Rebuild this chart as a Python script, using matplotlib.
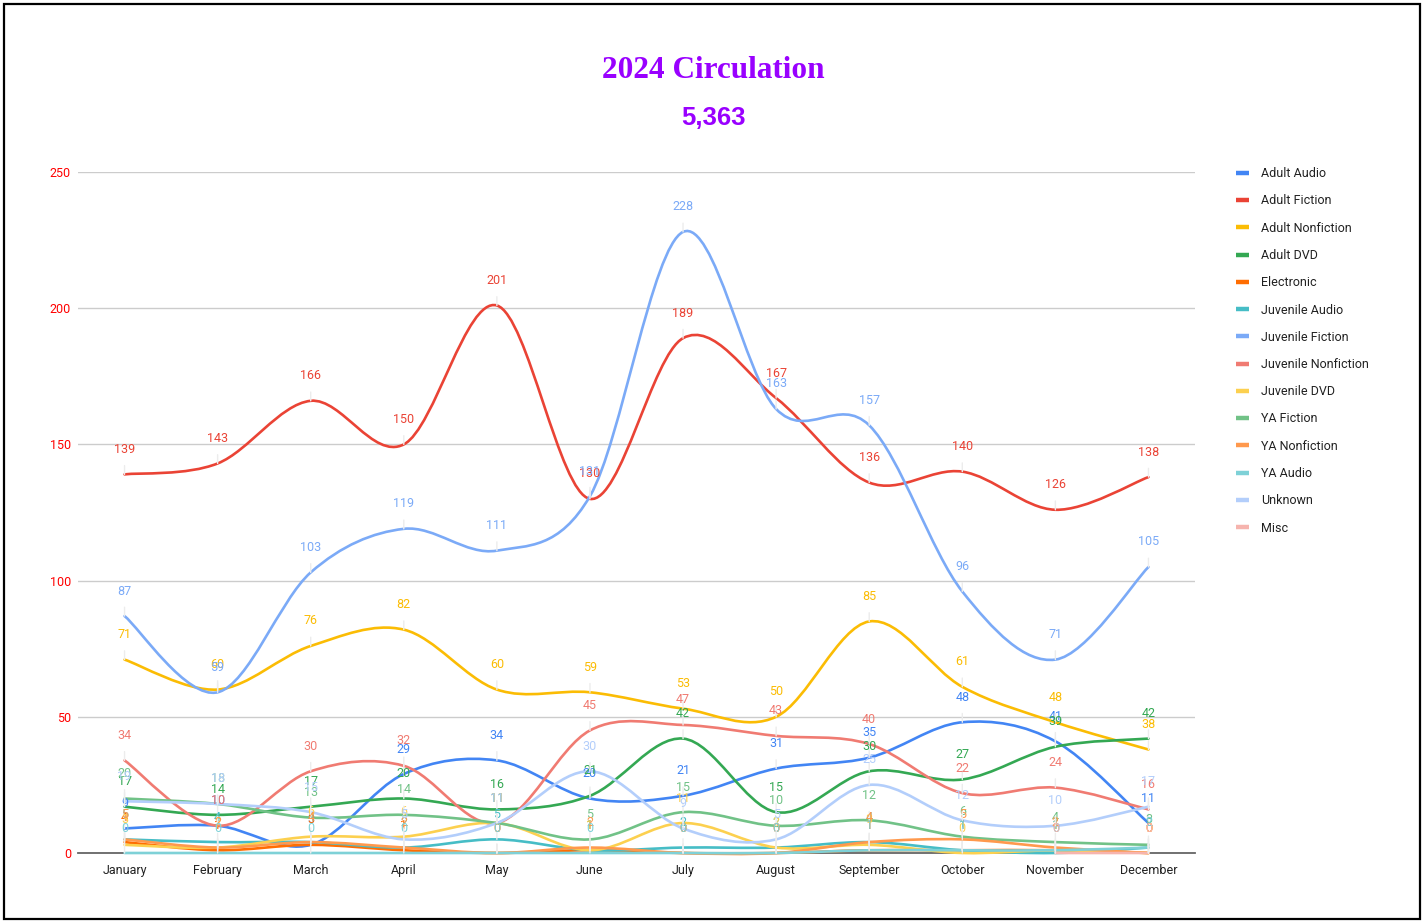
#!/usr/bin/env python3

import matplotlib
matplotlib.use("Agg")
import matplotlib.pyplot as plt
from matplotlib.path import Path
from matplotlib.patches import PathPatch, Rectangle
from matplotlib.lines import Line2D

# Data; None = no value that month
months = ["January", "February", "March", "April", "May", "June",
          "July", "August", "September", "October", "November", "December"]

adult_audio = [9, 10, 3, 29, 34, 20, 21, 31, 35, 48, 41, 11]
adult_fiction = [139, 143, 166, 150, 201, 130, 189, 167, 136, 140, 126, 138]
adult_nonfiction = [71, 60, 76, 82, 60, 59, 53, 50, 85, 61, 48, 38]
adult_dvd = [17, 14, 17, 20, 16, 21, 42, 15, 30, 27, 39, 42]
electronic = [4, 1, 3, 1, 0, 1, 0, 0, 1, 1, 1, 0]
juvenile_audio = [5, 4, 4, 2, 5, 1, 2, 2, 4, 1, 0, 2]
juvenile_fiction = [87, 59, 103, 119, 111, 131, 228, 163, 157, 96, 71, 105]
juvenile_nonfiction = [34, 10, 30, 32, 11, 45, 47, 43, 40, 22, 24, 16]
juvenile_dvd = [3, 2, 6, 6, 11, 1, 11, 2, 3, 0, 1, 0]
ya_fiction = [20, 18, 13, 14, 11, 5, 15, 10, 12, 6, 4, 3]
ya_nonfiction = [5, 2, 4, 2, 0, 2, 0, 0, 4, 5, 2, 0]
ya_audio = [0, 0, 0, 0, 0, 0, 0, 0, 1, 1, 1, 2]
unknown = [19, 18, 15, 5, 11, 30, 9, 5, 25, 12, 10, 17]
misc = [None, None, None, None, None, None, None, None, None, None, 0, 0]

series = [
    ("Adult Audio", adult_audio, "#4285F4"),
    ("Adult Fiction", adult_fiction, "#EA4335"),
    ("Adult Nonfiction", adult_nonfiction, "#FBBC04"),
    ("Adult DVD", adult_dvd, "#34A853"),
    ("Electronic", electronic, "#FF6D01"),
    ("Juvenile Audio", juvenile_audio, "#46BDC6"),
    ("Juvenile Fiction", juvenile_fiction, "#7BAAF7"),
    ("Juvenile Nonfiction", juvenile_nonfiction, "#F07B72"),
    ("Juvenile DVD", juvenile_dvd, "#FCD04F"),
    ("YA Fiction", ya_fiction, "#71C287"),
    ("YA Nonfiction", ya_nonfiction, "#FF994D"),
    ("YA Audio", ya_audio, "#7ED1D7"),
    ("Unknown", unknown, "#B3CEFB"),
    ("Misc", misc, "#F6B4AE"),
]

title = "2024 Circulation"
subtitle = "5,363"
purple = "#9900FF"


def smooth_path(ys):
    # cubic bezier path through the points (Catmull-Rom style tangents)
    pts = [(i, y) for i, y in enumerate(ys) if y is not None]
    n = len(pts)
    verts = [pts[0]]
    codes = [Path.MOVETO]
    for i in range(n - 1):
        p0 = pts[i - 1] if i > 0 else pts[i]
        p1 = pts[i]
        p2 = pts[i + 1]
        p3 = pts[i + 2] if i + 2 < n else pts[i + 1]
        c1 = (p1[0] + (p2[0] - p0[0]) / 6, p1[1] + (p2[1] - p0[1]) / 6)
        c2 = (p2[0] - (p3[0] - p1[0]) / 6, p2[1] - (p3[1] - p1[1]) / 6)
        verts += [c1, c2, p2]
        codes += [Path.CURVE4] * 3
    return Path(verts, codes)


plt.rcParams["font.family"] = ["Roboto", "DejaVu Sans"]

fig = plt.figure(figsize=(14.27, 9.23), dpi=100)
ax = fig.add_axes([78 / 1427, 1 - 853 / 923, (1195 - 78) / 1427, (853 - 172) / 923])

x = list(range(len(months)))
handles = []
for k, (name, vals, color) in enumerate(series):
    ax.add_patch(PathPatch(smooth_path(vals), fill=False, edgecolor=color,
                           lw=1.9, zorder=3, capstyle="round", clip_on=False))
    for i, v in enumerate(vals):
        if v is None:
            continue
        ax.annotate(str(v), xy=(i, v), xytext=(0, 18), textcoords="offset points",
                    ha="center", va="center", fontsize=9, color=color,
                    zorder=5 + k * 0.05, annotation_clip=False,
                    arrowprops=dict(arrowstyle="-", color="#ececec", lw=1,
                                    shrinkA=5, shrinkB=0))
    handles.append(Line2D([], [], color=color, lw=3.2, solid_capstyle="butt"))

ax.set_xlim(-0.5, 11.5)
ax.set_ylim(0, 250)
ax.set_xticks(x)
ax.set_xticklabels(months, fontsize=9, color="#222222")
ax.set_yticks([0, 50, 100, 150, 200, 250])
ax.tick_params(axis="y", labelsize=9, labelcolor="#FF0000", length=0, pad=5)
ax.tick_params(axis="x", length=0, pad=8)
ax.grid(True, axis="y", color="#cccccc", lw=1)
ax.set_axisbelow(True)
for s in ["top", "right", "left"]:
    ax.spines[s].set_visible(False)
ax.spines["bottom"].set_color("#666666")
ax.spines["bottom"].set_linewidth(1.3)

ax.legend(handles, [s[0] for s in series], loc="upper left",
          bbox_to_anchor=(1225 / 1427, 1 - 156 / 923), bbox_transform=fig.transFigure,
          frameon=False, fontsize=9, handlelength=1.0, handletextpad=1.0,
          labelspacing=1.14, labelcolor="#222222")

fig.text(0.5, 1 - 70 / 923, title, ha="center", va="center", color=purple,
         fontsize=22.5, fontweight="bold", family=["Liberation Serif", "DejaVu Serif"])
fig.text(0.5, 1 - 118 / 923, subtitle, ha="center", va="center", color=purple,
         fontsize=18.5, fontweight="bold", family=["Liberation Sans", "DejaVu Sans"])

fig.patches.append(Rectangle((4 / 1427, 4 / 923), 1416 / 1427, 915 / 923,
                             transform=fig.transFigure, fill=False,
                             edgecolor="black", lw=1.6))

fig.savefig("out.png", dpi=100)
